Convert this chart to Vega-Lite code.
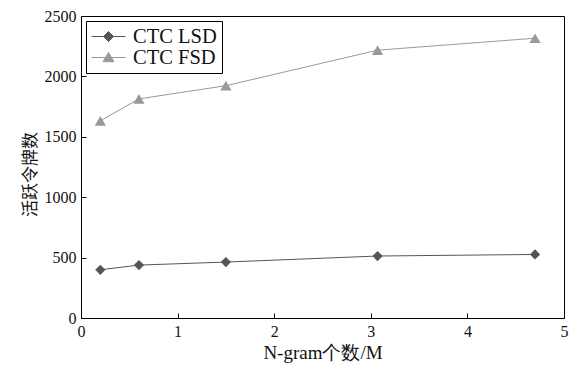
{
  "$schema": "https://vega.github.io/schema/vega-lite/v6.json",
  "width": 483,
  "height": 302,
  "autosize": {"type": "none"},
  "padding": {"left": 81, "top": 16, "right": 15, "bottom": 47},
  "background": "white",
  "config": {
    "view": {"stroke": "black", "strokeWidth": 1},
    "axis": {
      "labelFont": "Liberation Serif",
      "titleFont": "Liberation Serif",
      "tickColor": "black",
      "domainColor": "black",
      "grid": false
    },
    "legend": {
      "orient": "top-left",
      "offset": 5,
      "strokeColor": "black",
      "fillColor": "white",
      "padding": 5,
      "labelFont": "Liberation Serif",
      "labelFontSize": 20.5,
      "labelColor": "#111111",
      "symbolStrokeWidth": 1,
      "symbolSize": 400,
      "symbolOpacity": 1,
      "symbolFillColor": "#555555",
      "symbolStrokeColor": "#555555",
      "symbolOffset": 7,
      "labelOffset": 14,
      "rowPadding": 0
    }
  },
  "data": {
    "values": [
      {"series": "CTC LSD", "x": 0.2, "y": 399},
      {"series": "CTC LSD", "x": 0.6, "y": 438},
      {"series": "CTC LSD", "x": 1.5, "y": 463},
      {"series": "CTC LSD", "x": 3.07, "y": 513},
      {"series": "CTC LSD", "x": 4.7, "y": 526},
      {"series": "CTC FSD", "x": 0.2, "y": 1632},
      {"series": "CTC FSD", "x": 0.6, "y": 1814},
      {"series": "CTC FSD", "x": 1.5, "y": 1923},
      {"series": "CTC FSD", "x": 3.07, "y": 2217},
      {"series": "CTC FSD", "x": 4.7, "y": 2316}
    ]
  },
  "layer": [
    {
      "transform": [{"filter": "datum.series === 'CTC LSD'"}],
      "mark": {"type": "line", "strokeWidth": 1, "color": "#555555"},
      "encoding": {
        "x": {
          "field": "x",
          "type": "quantitative",
          "scale": {"domain": [0, 5], "nice": false},
          "axis": {
            "orient": "bottom",
            "values": [0, 1, 2, 3, 4, 5],
            "format": "d",
            "grid": false,
            "domainColor": "black",
            "ticks": false,
            "tickSize": 0,
            "labelFlush": false,
            "labelPadding": 5,
            "labelFont": "Liberation Serif",
            "labelFontSize": 16,
            "labelColor": "#111111",
            "title": "N-gram个数/M",
            "titleFont": "Liberation Serif",
            "titleFontSize": 19,
            "titleFontWeight": "normal",
            "titleColor": "#111111",
            "titlePadding": 4
          }
        },
        "y": {
          "field": "y",
          "type": "quantitative",
          "scale": {"domain": [0, 2500], "nice": false},
          "axis": {
            "orient": "left",
            "values": [0, 500, 1000, 1500, 2000, 2500],
            "format": "d",
            "grid": false,
            "domainColor": "black",
            "ticks": false,
            "tickSize": 0,
            "labelFlush": false,
            "labelPadding": 5,
            "labelFont": "Liberation Serif",
            "labelFontSize": 16,
            "labelColor": "#111111",
            "title": "活跃令牌数",
            "titleFont": "Noto Sans CJK SC",
            "titleFontSize": 17,
            "titleFontWeight": "normal",
            "titleColor": "#111111",
            "titlePadding": 5,
            "titleY": 158
          }
        }
      }
    },
    {
      "transform": [{"filter": "datum.series === 'CTC FSD'"}],
      "mark": {"type": "line", "strokeWidth": 1, "color": "#999999"},
      "encoding": {
        "x": {
          "field": "x",
          "type": "quantitative",
          "axis": {
            "orient": "bottom",
            "values": [1, 2, 3, 4],
            "offset": -5,
            "domain": false,
            "labels": false,
            "grid": false,
            "ticks": true,
            "tickSize": 5,
            "tickWidth": 1,
            "tickColor": "black",
            "title": null
          }
        },
        "y": {
          "field": "y",
          "type": "quantitative",
          "axis": {
            "orient": "left",
            "values": [500, 1000, 1500, 2000],
            "offset": -5,
            "domain": false,
            "labels": false,
            "grid": false,
            "ticks": true,
            "tickSize": 5,
            "tickWidth": 1,
            "tickColor": "black",
            "title": null
          }
        }
      }
    },
    {
      "transform": [{"filter": "datum.series === 'CTC LSD'"}],
      "mark": {"type": "point", "filled": true, "opacity": 1, "shape": "diamond", "size": 105, "color": "#555555"},
      "encoding": {
        "x": {"field": "x", "type": "quantitative", "axis": null},
        "y": {"field": "y", "type": "quantitative", "axis": null}
      }
    },
    {
      "transform": [{"filter": "datum.series === 'CTC FSD'"}],
      "mark": {"type": "point", "filled": true, "opacity": 1, "shape": "triangle-up", "size": 125, "color": "#999999"},
      "encoding": {
        "x": {"field": "x", "type": "quantitative", "axis": null},
        "y": {"field": "y", "type": "quantitative", "axis": null}
      }
    },
    {
      "mark": {"type": "point", "filled": true, "opacity": 0, "size": 400},
      "encoding": {
        "x": {"field": "x", "type": "quantitative", "axis": null},
        "y": {"field": "y", "type": "quantitative", "axis": null},
        "fill": {
          "field": "series",
          "type": "nominal",
          "scale": {"domain": ["CTC LSD", "CTC FSD"], "range": ["#555555", "#999999"]},
          "legend": {"title": null}
        },
        "shape": {
          "field": "series",
          "type": "nominal",
          "scale": {
            "domain": ["CTC LSD", "CTC FSD"],
            "range": ["M-1.7,0H1.7M0,-0.5L0.5,0L0,0.5L-0.5,0Z", "M-1.7,0H1.7M0,-0.5L0.55,0.42L-0.55,0.42Z"]
          },
          "legend": {"title": null}
        },
        "stroke": {
          "field": "series",
          "type": "nominal",
          "scale": {"domain": ["CTC LSD", "CTC FSD"], "range": ["#555555", "#999999"]},
          "legend": {"title": null}
        }
      }
    }
  ],
  "resolve": {"axis": {"x": "independent", "y": "independent"}}
}
